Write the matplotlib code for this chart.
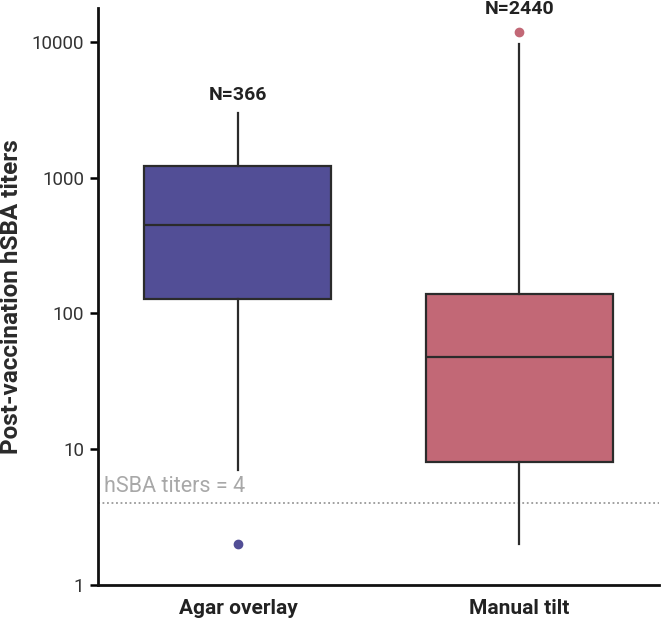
import matplotlib.pyplot as plt

plt.rcParams['font.family'] = ['Roboto', 'DejaVu Sans']

# summary stats
groups = ['Agar overlay', 'Manual tilt']
counts = [366, 2440]
q1 = [127, 8]
med = [451, 47.5]
q3 = [1225, 140]
whislo = [7, 2]
whishi = [3000, 9700]
fliers = [[2], [11800]]
colors = ['#524e96', '#c26876']
threshold = 4

fig = plt.figure(figsize=(6.61, 6.26), dpi=100)
ax = fig.add_axes([0.148, 0.0655, 0.849, 0.922])

stats = []
for i in range(len(groups)):
    stats.append(dict(label=groups[i], q1=q1[i], med=med[i], q3=q3[i],
                      whislo=whislo[i], whishi=whishi[i], fliers=fliers[i]))

bp = ax.bxp(stats, positions=[1, 2], widths=0.665, patch_artist=True,
            showcaps=False,
            boxprops=dict(edgecolor='#2b2b2b', linewidth=1.6),
            medianprops=dict(color='#2b2b2b', linewidth=1.6),
            whiskerprops=dict(color='#2b2b2b', linewidth=1.6))
for patch, c in zip(bp['boxes'], colors):
    patch.set_facecolor(c)
for fl, c in zip(bp['fliers'], colors):
    fl.set(marker='o', markerfacecolor=c, markeredgecolor=c, markersize=6)

ax.set_yscale('log')
ax.set_ylim(1, 17800)
ax.set_xlim(0.502, 2.497)
ax.set_yticks([1, 10, 100, 1000, 10000])
ax.set_yticklabels(['1', '10', '100', '1000', '10000'])
ax.minorticks_off()

ax.axhline(threshold, color='#999999', linestyle=(0, (1, 1.5)), linewidth=1.3, zorder=0)
ax.text(0.525, threshold * 1.12, 'hSBA titers = 4', color='#a8a8a8', fontsize=15.5,
        ha='left', va='bottom')

# N labels above the top of each group
for i in range(len(groups)):
    top = whishi[i]
    off = 6.5
    if fliers[i] and max(fliers[i]) > top:
        top = max(fliers[i])
        off = 10
    ax.annotate('N=%d' % counts[i], (i + 1, top), xytext=(0, off),
                textcoords='offset points', ha='center', va='bottom',
                fontsize=14, fontweight='bold', color='#222222')

ax.set_xticks([1, 2])
ax.set_xticklabels(groups, fontsize=15, fontweight='bold', color='#222222')
ax.tick_params(axis='x', length=0, pad=10)
ax.tick_params(axis='y', length=6, width=1.8, labelsize=13.5, labelcolor='#333333', pad=4)
ax.set_ylabel('Post-vaccination hSBA titers', fontsize=17.5, fontweight='bold',
              color='#2a2a2a', labelpad=6)

for s in ['top', 'right']:
    ax.spines[s].set_visible(False)
for s in ['left', 'bottom']:
    ax.spines[s].set_linewidth(2)
    ax.spines[s].set_color('#111111')

fig.savefig('out.png', dpi=100)
